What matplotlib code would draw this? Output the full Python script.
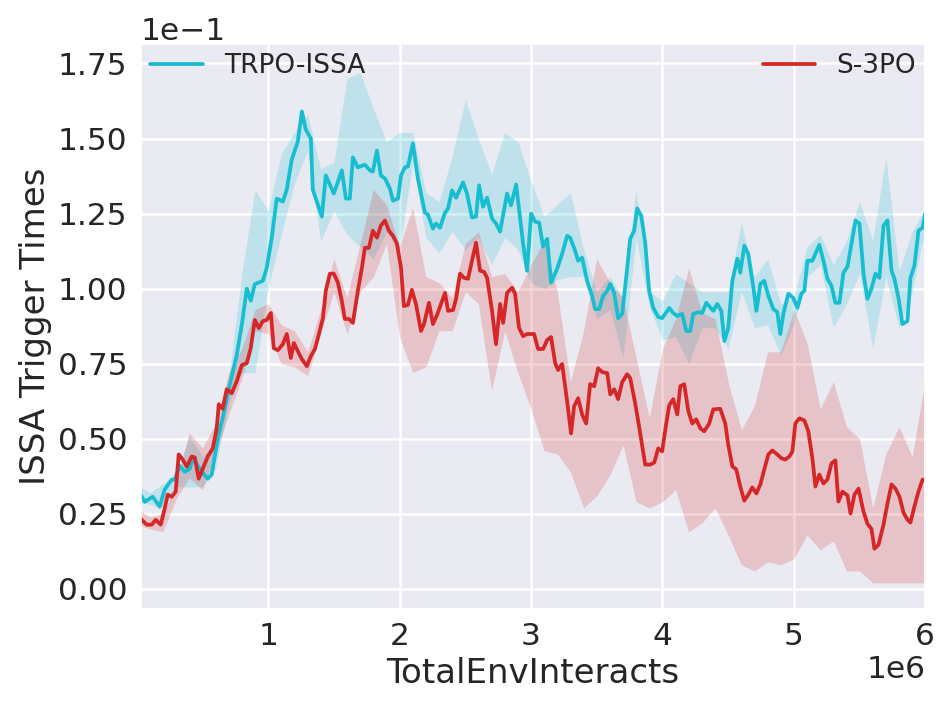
import numpy as np
import matplotlib
matplotlib.use("Agg")
import matplotlib.pyplot as plt
import seaborn as sns
from matplotlib.ticker import MultipleLocator

# x values in millions of env interacts, y values in units of 1e-1
trpo_x = [0.03, 0.061, 0.122, 0.175, 0.213, 0.267, 0.289, 0.327, 0.366, 0.404,
          0.426, 0.495, 0.541, 0.571, 0.617, 0.670, 0.708, 0.762, 0.800, 0.838,
          0.868, 0.899, 0.960, 0.990, 1.028, 1.066, 1.112, 1.142, 1.180, 1.226,
          1.257, 1.287, 1.325, 1.340, 1.371, 1.409, 1.439, 1.500, 1.561, 1.592,
          1.622, 1.645, 1.683, 1.736, 1.775, 1.797, 1.828, 1.858, 1.889, 1.927,
          1.950, 1.988, 2.011, 2.041, 2.064, 2.102, 2.140, 2.193, 2.216, 2.254,
          2.277, 2.308, 2.346, 2.369, 2.399, 2.430, 2.483, 2.513, 2.551, 2.582,
          2.605, 2.635, 2.666, 2.704, 2.734, 2.765, 2.818, 2.848, 2.887, 2.917,
          2.940, 2.970, 3.001, 3.031, 3.062, 3.092, 3.123, 3.153, 3.199, 3.237,
          3.275, 3.298, 3.336, 3.359, 3.389, 3.427, 3.465, 3.488, 3.519, 3.549,
          3.580, 3.603, 3.633, 3.663, 3.694, 3.724, 3.755, 3.785, 3.808, 3.839,
          3.869, 3.899, 3.930, 3.968, 3.998, 4.037, 4.052, 4.082, 4.113, 4.151,
          4.181, 4.212, 4.234, 4.273, 4.303, 4.334, 4.356, 4.387, 4.417, 4.448,
          4.471, 4.501, 4.532, 4.570, 4.592, 4.623, 4.653, 4.692, 4.715, 4.745,
          4.775, 4.806, 4.844, 4.874, 4.897, 4.920, 4.958, 4.996, 5.027, 5.057,
          5.080, 5.103, 5.141, 5.164, 5.194, 5.225, 5.255, 5.286, 5.316, 5.347,
          5.377, 5.408, 5.446, 5.469, 5.499, 5.530, 5.560, 5.590, 5.621, 5.651,
          5.682, 5.712, 5.743, 5.765, 5.796, 5.826, 5.864, 5.887, 5.917, 5.948,
          5.979, 6.0]
trpo_y = [0.314, 0.29, 0.307, 0.274, 0.331, 0.364, 0.364, 0.41, 0.39, 0.40,
          0.435, 0.39, 0.367, 0.381, 0.50, 0.60, 0.68, 0.78, 0.88, 1.00,
          0.96, 1.015, 1.026, 1.07, 1.17, 1.30, 1.29, 1.33, 1.43, 1.49,
          1.59, 1.53, 1.50, 1.33, 1.29, 1.24, 1.377, 1.317, 1.394, 1.30,
          1.30, 1.437, 1.404, 1.413, 1.394, 1.39, 1.46, 1.377, 1.367, 1.333,
          1.293, 1.30, 1.377, 1.404, 1.407, 1.484, 1.367, 1.253, 1.247, 1.20,
          1.217, 1.203, 1.253, 1.267, 1.327, 1.303, 1.354, 1.317, 1.237, 1.24,
          1.344, 1.273, 1.303, 1.233, 1.217, 1.19, 1.317, 1.277, 1.347, 1.237,
          1.15, 1.06, 1.25, 1.223, 1.22, 1.14, 1.166, 1.02, 1.066, 1.116,
          1.176, 1.17, 1.126, 1.093, 1.103, 1.026, 0.976, 0.932, 0.932, 0.976,
          0.993, 1.016, 0.986, 0.902, 0.916, 1.036, 1.166, 1.193, 1.267, 1.243,
          1.153, 0.993, 0.936, 0.906, 0.902, 0.926, 0.936, 0.919, 0.909, 0.916,
          0.859, 0.859, 0.916, 0.922, 0.919, 0.953, 0.942, 0.926, 0.949, 0.926,
          0.826, 0.869, 1.026, 1.10, 1.053, 1.143, 1.116, 1.003, 0.926, 1.016,
          1.026, 0.976, 0.932, 0.922, 0.849, 0.916, 0.983, 0.969, 0.936, 0.983,
          0.993, 1.093, 1.093, 1.116, 1.146, 1.093, 1.033, 1.01, 0.953, 0.953,
          1.053, 1.073, 1.17, 1.227, 1.217, 1.05, 0.966, 0.999, 1.05, 1.036,
          1.21, 1.227, 1.06, 1.033, 0.969, 0.882, 0.892, 1.036, 1.076, 1.193,
          1.203, 1.25]

s3po_x = [0.03, 0.076, 0.114, 0.145, 0.183, 0.213, 0.236, 0.267, 0.297, 0.320,
          0.350, 0.381, 0.419, 0.442, 0.472, 0.503, 0.541, 0.579, 0.609, 0.625,
          0.655, 0.685, 0.724, 0.762, 0.800, 0.838, 0.868, 0.899, 0.929, 0.960,
          0.990, 1.021, 1.043, 1.074, 1.112, 1.142, 1.173, 1.196, 1.226, 1.257,
          1.295, 1.325, 1.356, 1.379, 1.417, 1.439, 1.470, 1.500, 1.531, 1.561,
          1.584, 1.615, 1.645, 1.683, 1.714, 1.736, 1.767, 1.797, 1.828, 1.858,
          1.889, 1.919, 1.950, 1.980, 2.011, 2.033, 2.064, 2.094, 2.125, 2.163,
          2.186, 2.224, 2.254, 2.285, 2.346, 2.369, 2.407, 2.430, 2.460, 2.490,
          2.521, 2.551, 2.582, 2.612, 2.643, 2.666, 2.704, 2.734, 2.765, 2.788,
          2.818, 2.856, 2.879, 2.909, 2.940, 2.970, 3.024, 3.054, 3.092, 3.123,
          3.153, 3.184, 3.206, 3.237, 3.275, 3.305, 3.328, 3.359, 3.389, 3.420,
          3.450, 3.481, 3.511, 3.542, 3.580, 3.603, 3.633, 3.663, 3.694, 3.732,
          3.755, 3.793, 3.831, 3.869, 3.907, 3.938, 3.968, 3.998, 4.029, 4.052,
          4.082, 4.113, 4.136, 4.166, 4.197, 4.227, 4.257, 4.288, 4.318, 4.356,
          4.387, 4.440, 4.478, 4.501, 4.532, 4.562, 4.592, 4.623, 4.653, 4.684,
          4.715, 4.745, 4.775, 4.806, 4.836, 4.874, 4.905, 4.935, 4.966, 4.989,
          5.011, 5.042, 5.080, 5.110, 5.141, 5.164, 5.194, 5.225, 5.255, 5.286,
          5.316, 5.339, 5.370, 5.408, 5.431, 5.461, 5.492, 5.530, 5.560, 5.590,
          5.613, 5.644, 5.682, 5.712, 5.743, 5.773, 5.804, 5.834, 5.864, 5.887,
          5.917, 5.948, 5.979, 6.0]
s3po_y = [0.234, 0.214, 0.214, 0.23, 0.214, 0.267, 0.314, 0.307, 0.324, 0.448,
          0.431, 0.408, 0.441, 0.438, 0.367, 0.40, 0.441, 0.468, 0.535, 0.615,
          0.60, 0.665, 0.652, 0.692, 0.745, 0.752, 0.802, 0.896, 0.869, 0.892,
          0.896, 0.919, 0.802, 0.795, 0.815, 0.849, 0.769, 0.819, 0.792, 0.765,
          0.742, 0.775, 0.799, 0.836, 0.902, 0.993, 1.05, 1.05, 1.02, 0.959,
          0.899, 0.899, 0.886, 0.993, 1.07, 1.136, 1.136, 1.193, 1.17, 1.21,
          1.227, 1.193, 1.176, 1.15, 1.07, 0.942, 0.946, 0.996, 0.949, 0.859,
          0.882, 0.953, 0.882, 0.912, 0.986, 0.926, 0.929, 0.966, 1.05, 1.036,
          1.033, 1.093, 1.153, 1.06, 1.056, 1.036, 0.926, 0.815, 0.949, 0.886,
          0.986, 1.003, 0.983, 0.869, 0.842, 0.849, 0.849, 0.799, 0.799, 0.829,
          0.839, 0.752, 0.729, 0.749, 0.625, 0.518, 0.608, 0.635, 0.581, 0.551,
          0.682, 0.675, 0.735, 0.722, 0.719, 0.648, 0.665, 0.632, 0.689, 0.715,
          0.702, 0.618, 0.518, 0.414, 0.414, 0.421, 0.468, 0.458, 0.551, 0.612,
          0.632, 0.581, 0.675, 0.682, 0.592, 0.551, 0.565, 0.535, 0.525, 0.551,
          0.598, 0.60, 0.551, 0.48, 0.408, 0.398, 0.341, 0.294, 0.314, 0.338,
          0.318, 0.348, 0.398, 0.448, 0.461, 0.448, 0.435, 0.431, 0.441, 0.458,
          0.551, 0.568, 0.561, 0.525, 0.435, 0.341, 0.381, 0.351, 0.364, 0.418,
          0.428, 0.291, 0.324, 0.311, 0.251, 0.314, 0.334, 0.257, 0.217, 0.20,
          0.134, 0.147, 0.214, 0.284, 0.348, 0.334, 0.307, 0.254, 0.231, 0.221,
          0.274, 0.324, 0.364, 0.361]

# shaded spread, read on a coarser grid
band_x = [0.03, 0.1, 0.2, 0.3, 0.4, 0.5, 0.6, 0.7, 0.8, 0.9,
          1.0, 1.1, 1.2, 1.3, 1.4, 1.5, 1.6, 1.7, 1.8, 1.9,
          2.0, 2.1, 2.2, 2.3, 2.4, 2.5, 2.6, 2.7, 2.8, 2.9,
          3.0, 3.1, 3.2, 3.3, 3.4, 3.5, 3.6, 3.7, 3.8, 3.9,
          4.0, 4.1, 4.2, 4.3, 4.4, 4.5, 4.6, 4.7, 4.8, 4.9,
          5.0, 5.1, 5.2, 5.3, 5.4, 5.5, 5.6, 5.7, 5.8, 5.9, 6.0]
trpo_hi = [0.34, 0.32, 0.35, 0.38, 0.51, 0.44, 0.48, 0.70, 1.05, 1.33,
           1.26, 1.45, 1.52, 1.58, 1.40, 1.42, 1.70, 1.72, 1.60, 1.49,
           1.52, 1.52, 1.32, 1.29, 1.44, 1.63, 1.50, 1.38, 1.52, 1.49,
           1.36, 1.24, 1.28, 1.32, 1.13, 0.99, 1.04, 0.97, 1.33, 0.99,
           0.96, 1.05, 1.02, 0.99, 0.99, 0.99, 1.22, 1.04, 1.10, 0.95,
           0.97, 1.14, 1.18, 1.08, 1.16, 1.29, 1.16, 1.44, 1.06, 1.19, 1.27]
trpo_lo = [0.29, 0.28, 0.27, 0.34, 0.34, 0.34, 0.40, 0.62, 0.72, 0.72,
           1.00, 1.18, 1.35, 1.46, 1.16, 1.26, 1.18, 1.14, 1.10, 1.19,
           1.13, 1.42, 1.17, 1.12, 1.19, 1.13, 1.17, 1.08, 1.17, 1.13,
           1.02, 1.00, 1.03, 1.04, 1.04, 0.90, 0.93, 0.77, 1.17, 0.94,
           0.83, 0.84, 0.75, 0.87, 0.87, 0.80, 0.99, 0.87, 0.88, 0.78,
           0.88, 1.04, 1.08, 0.87, 0.95, 1.05, 0.80, 1.04, 0.87, 0.99, 1.20]
s3po_hi = [0.26, 0.24, 0.25, 0.35, 0.52, 0.47, 0.55, 0.72, 0.80, 0.93,
           0.95, 0.88, 0.86, 0.79, 0.93, 1.10, 0.97, 1.15, 1.33, 1.28,
           1.14, 1.27, 1.04, 1.02, 0.97, 1.15, 1.19, 1.04, 1.05, 0.99,
           1.08, 1.16, 0.99, 0.69, 0.86, 1.10, 1.02, 0.97, 0.77, 0.57,
           0.80, 0.90, 1.07, 0.92, 0.90, 0.69, 0.53, 0.61, 0.79, 0.79,
           0.93, 0.82, 0.60, 0.69, 0.54, 0.50, 0.27, 0.45, 0.54, 0.44, 0.70]
s3po_lo = [0.21, 0.20, 0.19, 0.30, 0.37, 0.33, 0.45, 0.58, 0.70, 0.86,
           0.85, 0.75, 0.74, 0.71, 0.85, 0.99, 0.85, 0.99, 1.04, 1.15,
           0.84, 0.72, 0.74, 0.86, 0.86, 0.99, 0.95, 0.66, 0.86, 0.72,
           0.60, 0.46, 0.45, 0.39, 0.27, 0.31, 0.38, 0.48, 0.29, 0.27,
           0.29, 0.33, 0.19, 0.22, 0.27, 0.18, 0.08, 0.06, 0.09, 0.08,
           0.10, 0.18, 0.13, 0.16, 0.06, 0.06, 0.02, 0.02, 0.02, 0.02, 0.02]

sns.set_theme(style="darkgrid", rc={"grid.linewidth": 1.8})

fig = plt.figure(figsize=(9.5, 7.09), dpi=100)
ax = fig.add_axes([0.148, 0.141, 0.826, 0.797])

bx = np.array(band_x) * 1e6
ax.fill_between(bx, np.array(trpo_lo) * 0.1, np.array(trpo_hi) * 0.1,
                color="tab:cyan", alpha=0.2, linewidth=0)
ax.fill_between(bx, np.array(s3po_lo) * 0.1, np.array(s3po_hi) * 0.1,
                color="tab:red", alpha=0.2, linewidth=0)
ax.plot(np.array(trpo_x) * 1e6, np.array(trpo_y) * 0.1, color="tab:cyan",
        lw=2.7, label="TRPO-ISSA")
ax.plot(np.array(s3po_x) * 1e6, np.array(s3po_y) * 0.1, color="tab:red",
        lw=2.7, label="S-3PO")

ax.set_xlim(0.03e6, 6e6)
ax.set_ylim(-0.0067, 0.1815)
ax.yaxis.set_major_locator(MultipleLocator(0.025))
ax.ticklabel_format(axis="y", style="sci", scilimits=(0, 0))
ax.tick_params(axis="both", labelsize=22.5)
ax.yaxis.get_offset_text().set_fontsize(22.5)
ax.xaxis.get_offset_text().set_fontsize(22.5)

ax.set_xlabel("TotalEnvInteracts", fontsize=24.5)
ax.set_ylabel("ISSA Trigger Times", fontsize=24.5)

ax.legend(ncol=2, mode="expand", loc="upper left", bbox_to_anchor=(0, 0, 1, 1),
          frameon=False, fontsize=19, borderaxespad=0.1, borderpad=0.25)

fig.savefig("out.png", dpi=100)
